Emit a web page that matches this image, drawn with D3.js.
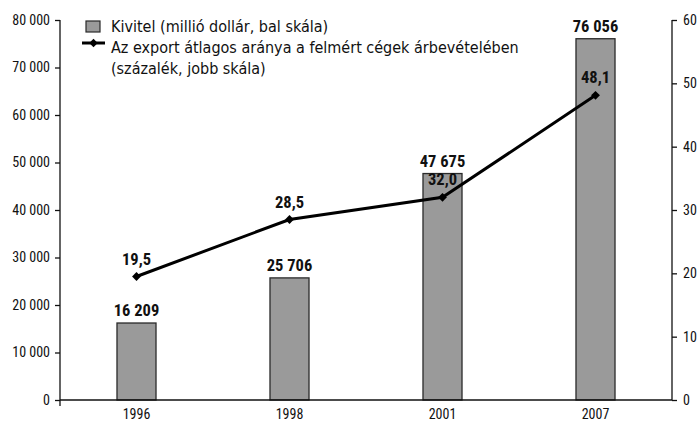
<!DOCTYPE html>
<html>
<head>
<meta charset="utf-8">
<script src="https://cdn.jsdelivr.net/npm/d3@7"></script>
<style>
  html, body { margin: 0; padding: 0; background: #fff; }
  svg text { font-family: "Roboto Condensed", "DejaVu Sans Condensed", sans-serif; fill: #111; }
  .legend text { font-family: "DejaVu Sans Condensed", "DejaVu Sans", sans-serif; font-stretch: condensed; }
  .axis path, .axis line { stroke: #111; stroke-width: 1.3; }
</style>
</head>
<body>
<svg id="chart" width="700" height="425"></svg>
<script>
"use strict";

// --- data ---
const years = ["1996", "1998", "2001", "2007"];
const exportValues = [16209, 25706, 47675, 76056];      // millió dollár, bal skála
const exportShare = [19.5, 28.5, 32.0, 48.1];           // százalék, jobb skála
const leftTicks = [0, 10000, 20000, 30000, 40000, 50000, 60000, 70000, 80000];
const rightTicks = [0, 10, 20, 30, 40, 50, 60];
const legendLabels = ["Kivitel (millió dollár, bal skála)", "Az export átlagos aránya a felmért cégek árbevételében", "(százalék, jobb skála)"];

const M = { left: 60, right: 672, top: 20, bottom: 400 };
const svg = d3.select("#chart");

// space as thousands separator, decimal comma
const fmtThousands = v => d3.format(",")(v).replace(/,/g, " ");
const fmtComma = v => d3.format(".1f")(v).replace(".", ",");

const x = d3.scaleBand().domain(years).range([M.left, M.right]).paddingInner(0.745).paddingOuter(0.3725);
const yL = d3.scaleLinear().domain([0, 80000]).range([M.bottom, M.top]);
const yR = d3.scaleLinear().domain([0, 60]).range([M.bottom, M.top]);

// --- bars ---
svg.append("g").selectAll("rect")
    .data(exportValues)
    .enter().append("rect")
    .attr("x", (d, i) => x(years[i]))
    .attr("y", d => yL(d))
    .attr("width", x.bandwidth())
    .attr("height", d => yL(0) - yL(d))
    .attr("fill", "#9a9a9a")
    .attr("stroke", "#2a2a2a")
    .attr("stroke-width", 1.3);

svg.append("g").selectAll("text")
    .data(exportValues)
    .enter().append("text")
    .attr("x", (d, i) => x(years[i]) + x.bandwidth() / 2)
    .attr("y", d => yL(d) - 7)
    .attr("text-anchor", "middle")
    .style("font-size", "16.5px").style("font-weight", "bold")
    .text(fmtThousands);

// --- axes ---
const axL = svg.append("g").attr("class", "axis")
    .attr("transform", `translate(${M.left},0)`)
    .call(d3.axisLeft(yL).tickValues(leftTicks).tickSize(5).tickPadding(5).tickFormat(fmtThousands));
axL.select(".domain").attr("d", `M0,${M.top}V${M.bottom + 6}`);
axL.selectAll("text").style("font-size", "14px");

const axR = svg.append("g").attr("class", "axis")
    .attr("transform", `translate(${M.right},0)`)
    .call(d3.axisRight(yR).tickValues(rightTicks).tickSize(5).tickPadding(6).tickFormat(d3.format("d")));
axR.select(".domain").attr("d", `M0,${M.top}V${M.bottom}`);
axR.selectAll("text").style("font-size", "14px");

const axB = svg.append("g").attr("class", "axis")
    .attr("transform", `translate(0,${M.bottom})`)
    .call(d3.axisBottom(x).tickSize(0).tickPadding(9));
axB.select(".domain").attr("d", `M${M.left},0H${M.right}`);
axB.selectAll("text").style("font-size", "14px");

// --- line ---
const cx = (d, i) => x(years[i]) + x.bandwidth() / 2;
const line = d3.line().x(cx).y(d => yR(d));
svg.append("path")
    .datum(exportShare)
    .attr("d", line)
    .attr("fill", "none")
    .attr("stroke", "#000")
    .attr("stroke-width", 3);

const diamond = d3.symbol().type(d3.symbolDiamond2).size(50);
svg.append("g").selectAll("path")
    .data(exportShare)
    .enter().append("path")
    .attr("d", diamond)
    .attr("transform", (d, i) => `translate(${cx(d, i)},${yR(d)})`)
    .attr("fill", "#000");

svg.append("g").selectAll("text")
    .data(exportShare)
    .enter().append("text")
    .attr("x", cx)
    .attr("y", d => yR(d) - 12)
    .attr("text-anchor", "middle")
    .style("font-size", "16.5px").style("font-weight", "bold")
    .text(fmtComma);

// --- legend ---
const lg = svg.append("g").attr("class", "legend");
lg.append("rect").attr("x", 86).attr("y", 21).attr("width", 14).attr("height", 11)
    .attr("fill", "#9a9a9a").attr("stroke", "#2a2a2a").attr("stroke-width", 1.2);
lg.append("line").attr("x1", 82).attr("x2", 105).attr("y1", 43).attr("y2", 43)
    .attr("stroke", "#000").attr("stroke-width", 3);
lg.append("path").attr("d", d3.symbol().type(d3.symbolDiamond2).size(45))
    .attr("transform", "translate(93.5,43)").attr("fill", "#000");
lg.selectAll("text")
    .data(legendLabels)
    .enter().append("text")
    .attr("x", 111)
    .attr("y", (d, i) => 32 + i * 21)
    .style("font-size", "16px")
    .text(d => d);
</script>
</body>
</html>
